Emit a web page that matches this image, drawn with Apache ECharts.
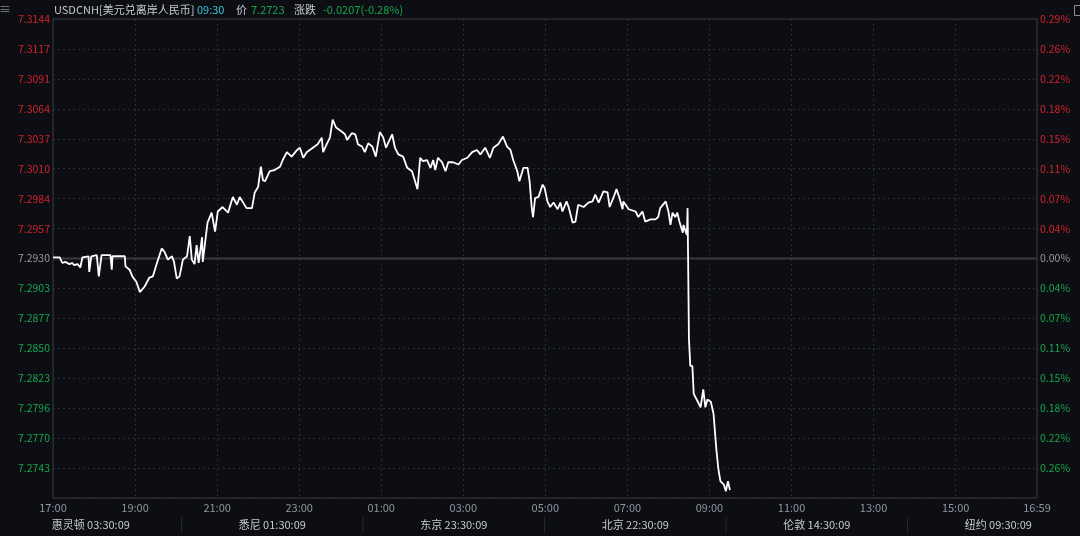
<!DOCTYPE html>
<html>
<head>
<meta charset="utf-8">
<title>USDCNH 分时</title>
<script src="https://cdn.jsdelivr.net/npm/echarts/dist/echarts.min.js"></script>
<style>
  html, body { margin: 0; padding: 0; background: #0c0e13; }
  #chart { width: 1080px; height: 536px; }
</style>
</head>
<body>
<div id="chart"></div>
<script>
//--------------------------------------------------------------------------
//データ定義
//--------------------------------------------------------------------------
// 昨收
const prevClose = 7.2930
// 17:00 からの経過分
const times = [
  0, 10, 12, 14, 18, 24, 28, 31, 36, 40, 42, 43, 52, 53, 56, 64, 67, 71, 84, 86,
  87, 105, 106, 112, 116, 122, 127, 134, 141, 146, 152, 159, 163, 168, 174, 177, 181, 185, 190, 196,
  200, 203, 207, 210, 213, 218, 219, 223, 226, 232, 237, 241, 248, 256, 263, 269, 273, 283, 291, 295,
  300, 304, 307, 310, 317, 324, 332, 336, 342, 349, 357, 361, 366, 371, 380, 387, 393, 395, 401, 405,
  409, 414, 423, 427, 430, 437, 442, 446, 452, 456, 461, 467, 472, 478, 483, 487, 490, 496, 500, 505,
  512, 518, 525, 533, 537, 541, 547, 552, 556, 559, 563, 569, 574, 578, 585, 593, 598, 606, 613, 620,
  625, 632, 639, 644, 651, 658, 664, 669, 673, 679, 682, 688, 694, 697, 700, 702, 705, 710, 716, 719,
  723, 727, 732, 738, 742, 745, 751, 754, 760, 764, 768, 776, 783, 789, 793, 798, 805, 811, 814, 820,
  824, 828, 833, 834, 842, 852, 856, 862, 866, 874, 881, 885, 888, 896, 900, 903, 906, 910, 913, 916,
  921, 922, 927, 928, 930, 932, 935, 937, 943, 947, 951, 954, 957, 962, 966, 970, 973, 976, 981, 984,
  987, 990
]
// 価格
const prices = [
  7.2931, 7.2931, 7.2928, 7.2926, 7.2927, 7.2925, 7.2926, 7.2924, 7.2925, 7.2922, 7.2923, 7.2931, 7.2932, 7.2918, 7.2932, 7.2933, 7.2914, 7.2933, 7.2933, 7.2920,
  7.2932, 7.2932, 7.2923, 7.2920, 7.2914, 7.2909, 7.2900, 7.2905, 7.2913, 7.2914, 7.2926, 7.2939, 7.2936, 7.2929, 7.2932, 7.2927, 7.2912, 7.2914, 7.2929, 7.2932,
  7.2950, 7.2929, 7.2925, 7.2942, 7.2926, 7.2949, 7.2927, 7.2947, 7.2962, 7.2971, 7.2954, 7.2972, 7.2976, 7.2971, 7.2985, 7.2978, 7.2985, 7.2975, 7.2975, 7.2989,
  7.2994, 7.3012, 7.3000, 7.2999, 7.3008, 7.3009, 7.3012, 7.3018, 7.3025, 7.3021, 7.3027, 7.3029, 7.3020, 7.3025, 7.3029, 7.3032, 7.3038, 7.3025, 7.3033, 7.3038,
  7.3054, 7.3047, 7.3043, 7.3041, 7.3036, 7.3042, 7.3041, 7.3032, 7.3030, 7.3025, 7.3033, 7.3030, 7.3021, 7.3043, 7.3038, 7.3029, 7.3033, 7.3041, 7.3029, 7.3023,
  7.3021, 7.3011, 7.3008, 7.2992, 7.3020, 7.3017, 7.3018, 7.3011, 7.3018, 7.3009, 7.3020, 7.3016, 7.3008, 7.3016, 7.3016, 7.3014, 7.3018, 7.3020, 7.3025, 7.3027,
  7.3023, 7.3029, 7.3020, 7.3029, 7.3032, 7.3039, 7.3030, 7.3027, 7.3018, 7.3008, 7.2999, 7.3011, 7.3011, 7.2999, 7.2976, 7.2967, 7.2984, 7.2985, 7.2996, 7.2993,
  7.2981, 7.2976, 7.2980, 7.2974, 7.2980, 7.2972, 7.2981, 7.2976, 7.2962, 7.2963, 7.2978, 7.2976, 7.2980, 7.2981, 7.2987, 7.2980, 7.2990, 7.2989, 7.2976, 7.2985,
  7.2992, 7.2985, 7.2974, 7.2981, 7.2974, 7.2972, 7.2967, 7.2972, 7.2963, 7.2965, 7.2965, 7.2967, 7.2975, 7.2981, 7.2972, 7.2960, 7.2971, 7.2967, 7.2971, 7.2963,
  7.2953, 7.2960, 7.2951, 7.2975, 7.2858, 7.2834, 7.2834, 7.2809, 7.2802, 7.2797, 7.2813, 7.2797, 7.2804, 7.2802, 7.2791, 7.2760, 7.2742, 7.2731, 7.2728, 7.2722,
  7.2731, 7.2723
]
// 縦軸目盛 (下から)
const priceLabels = ['', '7.2743', '7.2770', '7.2796', '7.2823', '7.2850', '7.2877', '7.2903', '7.2930',
  '7.2957', '7.2984', '7.3010', '7.3037', '7.3064', '7.3091', '7.3117', '7.3144']
const pctLabels = ['', '0.26%', '0.22%', '0.18%', '0.15%', '0.11%', '0.07%', '0.04%', '0.00%',
  '0.04%', '0.07%', '0.11%', '0.15%', '0.18%', '0.22%', '0.26%', '0.29%']
const yMin = 7.2716
const yMax = 7.3144
// 下部の各地時刻
const cityLabels = ['惠灵顿 03:30:09', '悉尼 01:30:09', '东京 23:30:09', '北京 22:30:09', '伦敦 14:30:09', '纽约 09:30:09']

//--------------------------------------------------------------------------
//メソッド
//--------------------------------------------------------------------------
const FONT = '"Noto Sans CJK SC", "Liberation Sans", sans-serif'
const RED = '#d3222b'
const GREEN = '#18a64a'
const GREY = '#9a9a9a'

function tickColor(v) {
  if (v > 8) return RED
  if (v < 8) return GREEN
  return GREY
}

function timeText(m) {
  const h = (17 + Math.floor(m / 60)) % 24
  const mm = m % 60
  return String(h).padStart(2, '0') + ':' + String(mm).padStart(2, '0')
}

const dotted = { color: '#2b2e35', type: [2, 3], width: 1 }

const graphics = []
// ヘッダー
const head = [
  [54, 'USDCNH[美元兑离岸人民币]', '#c6c9ce'],
  [197, '09:30', '#3cc4da'],
  [236, '价', '#c6c9ce'],
  [251, '7.2723', GREEN],
  [294, '涨跌', '#c6c9ce'],
  [323, '-0.0207(-0.28%)', GREEN]
]
head.forEach((h) => {
  graphics.push({
    type: 'text', left: h[0], top: 4,
    style: { text: h[1], fill: h[2], font: '11px ' + FONT }
  })
})
graphics.push({ type: 'text', left: -1, top: 3, style: { text: '≡', fill: '#8a8d92', font: '12px ' + FONT } })
graphics.push({ type: 'rect', shape: { x: 1074.5, y: 5.5, width: 8, height: 10 }, style: { fill: 'none', stroke: '#8a8d92', lineWidth: 1 } })
// 下部
const cellW = 181.5
cityLabels.forEach((t, i) => {
  graphics.push({
    type: 'text', x: cellW * i + cellW / 2, y: 525,
    style: { text: t, fill: '#c6c9ce', font: '11px ' + FONT, align: 'center', verticalAlign: 'middle' }
  })
  if (i > 0) {
    graphics.push({
      type: 'line', shape: { x1: cellW * i, y1: 517, x2: cellW * i, y2: 533 },
      style: { stroke: '#262930', lineWidth: 1 }
    })
  }
})

const option = {
  backgroundColor: '#0c0e13',
  animation: false,
  textStyle: { fontFamily: FONT },
  grid: {
    left: 53, right: 43, top: 19, bottom: 38,
    show: true, borderColor: '#363940', borderWidth: 1, backgroundColor: '#0c0e13'
  },
  graphic: graphics,
  xAxis: {
    type: 'value',
    min: 0,
    max: 1439,
    interval: 120,
    axisLine: { show: false },
    axisTick: { show: false },
    splitLine: { show: true, lineStyle: dotted },
    axisLabel: {
      color: '#90959c', fontSize: 11, margin: 4,
      formatter: (v) => timeText(v)
    }
  },
  yAxis: [
    {
      type: 'value', position: 'left', min: 0, max: 16, interval: 1,
      axisLine: { show: false }, axisTick: { show: false },
      splitLine: { show: true, lineStyle: dotted },
      axisLabel: {
        fontSize: 10.5, margin: 3,
        formatter: (v) => priceLabels[v],
        color: (v) => tickColor(v)
      }
    },
    {
      type: 'value', position: 'right', min: 0, max: 16, interval: 1,
      axisLine: { show: false }, axisTick: { show: false },
      splitLine: { show: false },
      axisLabel: {
        fontSize: 10.5, margin: 3,
        formatter: (v) => pctLabels[v],
        color: (v) => tickColor(v)
      }
    },
    { type: 'value', min: yMin, max: yMax, show: false }
  ],
  series: [
    // 昨收ライン
    {
      name: '昨收',
      type: 'line',
      yAxisIndex: 2,
      data: [[0, prevClose], [1439, prevClose]],
      showSymbol: false,
      silent: true,
      lineStyle: { color: '#3a3c41', width: 2 },
      z: 1
    },
    {
      name: 'USDCNH',
      type: 'line',
      yAxisIndex: 2,
      data: times.map((t, i) => [t, prices[i]]),
      showSymbol: false,
      lineStyle: { color: '#ffffff', width: 1.8 },
      z: 3
    }
  ]
}

const myChart = echarts.init(document.getElementById('chart'))
myChart.setOption(option)
</script>
</body>
</html>
